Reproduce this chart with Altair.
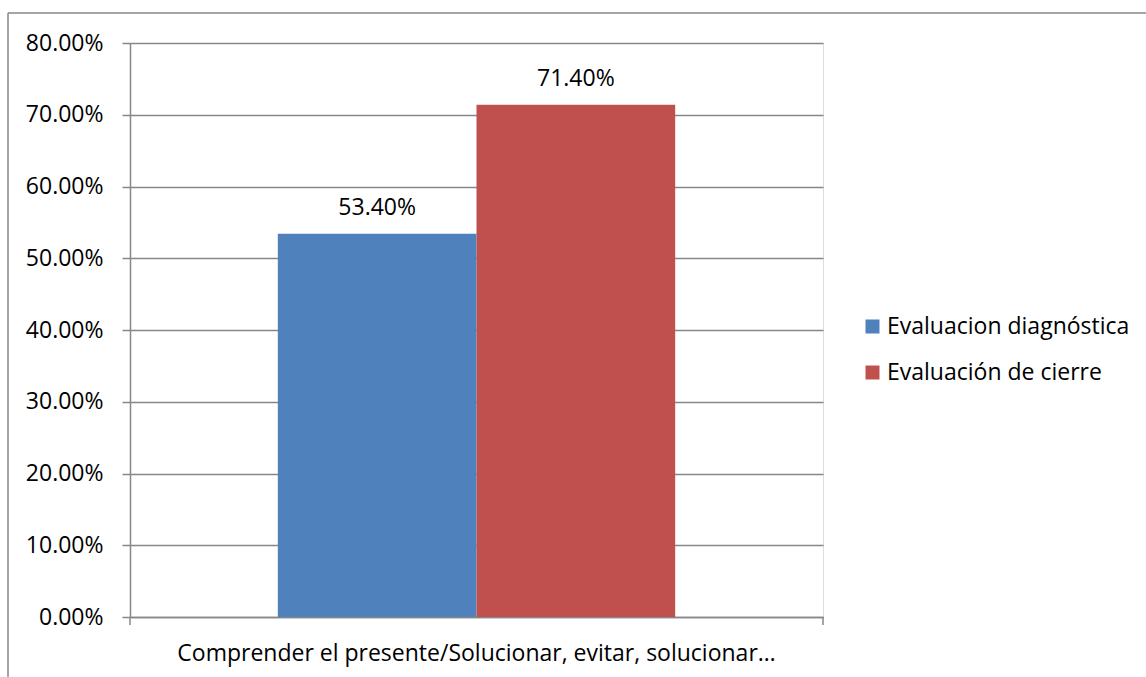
import altair as alt
import pandas as pd

# Chart data
category = ["Comprender el presente/Solucionar, evitar, solucionar…"]
series = ["Evaluacion diagnóstica", "Evaluación de cierre"]
values = [0.534, 0.714]
colors = ["#4F81BD", "#C0504D"]
y_ticks = [0.0, 0.1, 0.2, 0.3, 0.4, 0.5, 0.6, 0.7, 0.8]

FONT = "Open Sans"
GRAY = "#878787"
W, H = 693, 574

df = pd.DataFrame({
    "categoria": category * len(series),
    "serie": series,
    "valor": values,
})

base = alt.Chart(df).encode(
    x=alt.X(
        "categoria:N",
        title=None,
        scale=alt.Scale(paddingInner=0, paddingOuter=0),
        axis=alt.Axis(
            labelAngle=0,
            ticks=False,
            domainColor=GRAY,
            domainWidth=1.5,
            labelFont=FONT,
            labelFontSize=23,
            labelColor="#000000",
            labelBaseline="alphabetic",
            labelPadding=43,
            labelLimit=1000,
        ),
    ),
    xOffset=alt.XOffset(
        "serie:N",
        sort=series,
        scale=alt.Scale(paddingOuter=0.744, paddingInner=0),
    ),
    y=alt.Y(
        "valor:Q",
        title=None,
        scale=alt.Scale(domain=[0, 0.8], nice=False),
        axis=alt.Axis(
            values=y_ticks,
            format=".2%",
            grid=True,
            gridColor=GRAY,
            gridWidth=1.5,
            domainColor=GRAY,
            domainWidth=1.5,
            tickColor=GRAY,
            tickWidth=1.5,
            tickSize=8,
            labelFont=FONT,
            labelFontSize=23,
            labelColor="#000000",
            labelPadding=19,
        ),
    ),
)

bars = base.mark_bar().encode(
    color=alt.Color(
        "serie:N",
        sort=series,
        scale=alt.Scale(domain=series, range=colors),
        legend=alt.Legend(
            title=None,
            orient="none",
            legendX=731,
            legendY=272,
            symbolType="square",
            symbolSize=196,
            symbolStrokeWidth=0,
            labelFont=FONT,
            labelFontSize=23,
            labelColor="#000000",
            labelOffset=3,
            labelLimit=1000,
            rowPadding=22,
        ),
    )
)

labels = base.mark_text(
    baseline="alphabetic", dy=-19, font=FONT, fontSize=23, color="#000000"
).encode(text=alt.Text("valor:Q", format=".2%"))

# Category boundary ticks below the horizontal axis
edge_ticks = alt.Chart(pd.DataFrame({"p": [0]})).mark_rule(
    color=GRAY, strokeWidth=1.5
).encode(x=alt.value(0), y=alt.value(H), y2=alt.value(H + 8))
edge_ticks_r = alt.Chart(pd.DataFrame({"p": [0]})).mark_rule(
    color=GRAY, strokeWidth=1.5
).encode(x=alt.value(W), y=alt.value(H), y2=alt.value(H + 8))

# Outer chart frame
frame_top = alt.Chart(pd.DataFrame({"p": [0]})).mark_rule(
    color=GRAY, strokeWidth=1.5
).encode(x=alt.value(-122), x2=alt.value(1100), y=alt.value(-30))
frame_left = alt.Chart(pd.DataFrame({"p": [0]})).mark_rule(
    color=GRAY, strokeWidth=1.5
).encode(x=alt.value(-122), y=alt.value(-30), y2=alt.value(700))

chart = alt.layer(
    frame_top, frame_left, bars, labels, edge_ticks, edge_ticks_r
).properties(
    width=W,
    height=H,
    autosize=alt.AutoSizeParams(type="none"),
    padding={"left": 130, "top": 43, "right": 323, "bottom": 60},
).configure_view(
    stroke=None
).configure(
    background="#ffffff"
)

chart.save("out.html", embed_options={"renderer": "svg", "actions": False})
